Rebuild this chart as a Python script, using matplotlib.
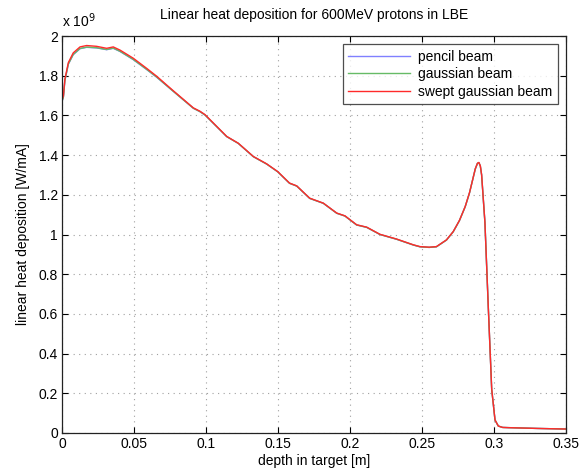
import matplotlib
matplotlib.use("Agg")
import matplotlib.pyplot as plt
from matplotlib.ticker import FuncFormatter

plt.rcParams['font.family'] = ['Liberation Sans', 'DejaVu Sans']

# depth in target [m]
depth = [0.0, 0.001, 0.002, 0.0044, 0.0078, 0.0125, 0.0171, 0.024, 0.031, 0.0356,
         0.0403, 0.0495, 0.0588, 0.0658, 0.0762, 0.0912, 0.0958, 0.0993, 0.1144, 0.1224,
         0.1329, 0.1421, 0.1498, 0.158, 0.163, 0.172, 0.1815, 0.1908, 0.1965, 0.2046,
         0.2116, 0.2208, 0.2324, 0.244, 0.2486, 0.255, 0.260, 0.267, 0.2717, 0.276,
         0.280, 0.283, 0.285, 0.287, 0.2885, 0.2895, 0.2905, 0.2914, 0.2937, 0.296,
         0.2984, 0.3007, 0.303, 0.306, 0.31, 0.33, 0.35]

# linear heat deposition [x 1e9 W/mA]
pencil = [1.670, 1.694, 1.775, 1.858, 1.906, 1.936, 1.943, 1.940, 1.931, 1.938,
          1.922, 1.881, 1.831, 1.792, 1.728, 1.636, 1.619, 1.602, 1.493, 1.459,
          1.392, 1.355, 1.316, 1.258, 1.244, 1.182, 1.157, 1.107, 1.093, 1.048,
          1.036, 1.000, 0.976, 0.947, 0.938, 0.935, 0.938, 0.972, 1.014, 1.070,
          1.140, 1.210, 1.270, 1.330, 1.358, 1.362, 1.345, 1.300, 1.060, 0.640,
          0.220, 0.065, 0.035, 0.028, 0.027, 0.023, 0.020]
gaussian = [1.670, 1.694, 1.776, 1.859, 1.907, 1.937, 1.944, 1.941, 1.932, 1.939,
            1.923, 1.882, 1.832, 1.793, 1.728, 1.636, 1.619, 1.602, 1.493, 1.459,
            1.392, 1.355, 1.316, 1.258, 1.244, 1.182, 1.157, 1.107, 1.093, 1.048,
            1.036, 1.000, 0.976, 0.947, 0.938, 0.935, 0.938, 0.972, 1.014, 1.070,
            1.140, 1.210, 1.270, 1.330, 1.358, 1.362, 1.345, 1.300, 1.060, 0.640,
            0.220, 0.065, 0.035, 0.028, 0.027, 0.023, 0.020]
swept = [1.675, 1.700, 1.782, 1.866, 1.915, 1.945, 1.952, 1.948, 1.938, 1.945,
         1.929, 1.888, 1.837, 1.797, 1.731, 1.638, 1.621, 1.604, 1.494, 1.460,
         1.393, 1.356, 1.317, 1.259, 1.245, 1.183, 1.158, 1.108, 1.094, 1.049,
         1.037, 1.001, 0.977, 0.948, 0.939, 0.936, 0.939, 0.973, 1.015, 1.071,
         1.141, 1.211, 1.271, 1.331, 1.359, 1.363, 1.346, 1.301, 1.061, 0.641,
         0.221, 0.066, 0.035, 0.028, 0.027, 0.023, 0.020]

xticks = [0, 0.05, 0.1, 0.15, 0.2, 0.25, 0.3, 0.35]
yticks = [0, 0.2, 0.4, 0.6, 0.8, 1.0, 1.2, 1.4, 1.6, 1.8, 2.0]

fig = plt.figure(figsize=(5.79, 4.74), dpi=100)
ax = fig.add_axes([62/579, 1-433/474, (566-62)/579, (433-36)/474])

ax.plot(depth, pencil, color='#8080ff', lw=1.0, label='pencil beam')
ax.plot(depth, gaussian, color='#66bb66', lw=1.0, label='gaussian beam')
ax.plot(depth, swept, color='#ff2a2a', lw=1.0, label='swept gaussian beam')

ax.set_xlim(0, 0.35)
ax.set_ylim(0, 2)
ax.set_xticks(xticks)
ax.set_yticks(yticks)
fmt = FuncFormatter(lambda v, p: '%g' % round(v, 3))
ax.xaxis.set_major_formatter(fmt)
ax.yaxis.set_major_formatter(fmt)
ax.tick_params(direction='in', top=True, right=True, length=4, width=0.8,
               labelsize=10, pad=3)
ax.grid(True, color='#a0a0a0', linestyle=(0, (1, 4)), lw=0.8)
for s in ax.spines.values():
    s.set_color('#222222')
    s.set_linewidth(0.9)

ax.set_title('Linear heat deposition for 600MeV protons in LBE', fontsize=10, pad=12)
ax.set_xlabel('depth in target [m]', fontsize=10, labelpad=2)
ax.set_ylabel('linear heat deposition [W/mA]', fontsize=10, labelpad=6)
ax.text(0.0, 1.015, r'x 10$^{9}$', transform=ax.transAxes, fontsize=10,
        ha='left', va='bottom')

leg = ax.legend(loc='upper right', fontsize=10, frameon=True, fancybox=False,
                handlelength=4.4, borderaxespad=0.6, labelspacing=0.25,
                borderpad=0.4, handletextpad=0.6)
leg.get_frame().set_edgecolor('#222222')
leg.get_frame().set_linewidth(0.9)

fig.savefig('out.png', dpi=100)
